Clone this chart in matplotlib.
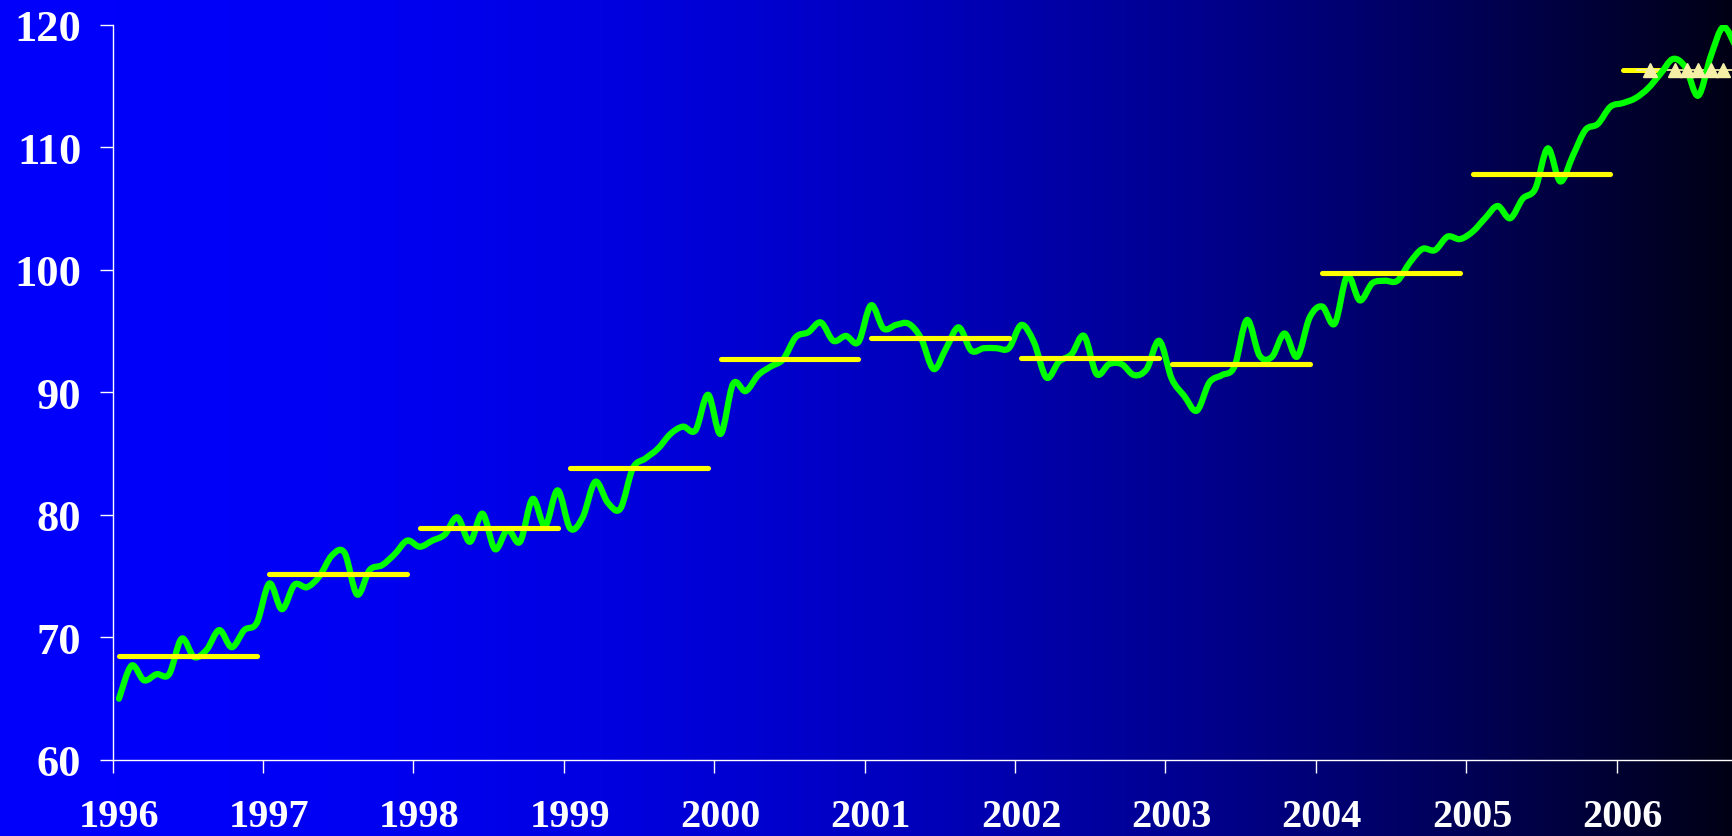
import numpy as np
import matplotlib
matplotlib.use("Agg")
import matplotlib.pyplot as plt
from matplotlib.path import Path
from matplotlib.patches import PathPatch
from matplotlib.transforms import ScaledTranslation

# ---------------- data ----------------
years = list(range(1996, 2007))
year_labels = [str(y) for y in years]
y_ticks = [60, 70, 80, 90, 100, 110, 120]

monthly_1996 = [65.0, 67.7, 66.5, 67.0, 67.0, 69.9, 68.4, 69.0, 70.6, 69.2, 70.6, 71.2]
monthly_1997 = [74.4, 72.3, 74.3, 74.1, 75.0, 76.7, 76.9, 73.5, 75.5, 75.9, 76.8, 77.9]
monthly_1998 = [77.4, 77.9, 78.4, 79.8, 77.8, 80.1, 77.2, 78.8, 77.8, 81.3, 79.1, 82.0]
monthly_1999 = [78.9, 79.8, 82.7, 81.0, 80.5, 83.8, 84.6, 85.4, 86.6, 87.2, 86.9, 89.8]
monthly_2000 = [86.6, 90.7, 90.1, 91.4, 92.1, 92.7, 94.5, 94.9, 95.7, 94.2, 94.6, 94.1]
monthly_2001 = [97.1, 95.2, 95.5, 95.6, 94.4, 91.9, 93.6, 95.3, 93.4, 93.6, 93.6, 93.6]
monthly_2002 = [95.5, 94.1, 91.2, 92.5, 93.1, 94.6, 91.5, 92.3, 92.3, 91.4, 91.9, 94.2]
monthly_2003 = [91.1, 89.7, 88.5, 90.8, 91.4, 92.1, 95.9, 93.0, 92.9, 94.8, 92.9, 96.1]
monthly_2004 = [97.0, 95.6, 99.5, 97.5, 98.9, 99.1, 99.1, 100.6, 101.7, 101.6, 102.7, 102.5]
monthly_2005 = [103.1, 104.2, 105.2, 104.2, 105.8, 106.6, 109.9, 107.2, 109.3, 111.4, 111.9, 113.3]
monthly_2006 = [113.6, 114.0, 114.8, 116.0, 117.2, 116.5, 114.2, 117.4, 119.8, 118.2]

annual_avg = [68.5, 75.2, 78.9, 83.8, 92.7, 94.4, 92.8, 92.3, 99.7, 107.8]
avg_2006 = 116.3
forecast_2006 = 116.3
forecast_marker_dates = [2006.22, 2006.39, 2006.47, 2006.54, 2006.63, 2006.71]

# ---------------- figure ----------------
W, H, DPI = 1733, 837, 100
fig = plt.figure(figsize=(W / DPI, H / DPI), dpi=DPI)

# background gradient (blue -> black, left to right)
bg = fig.add_axes([0, 0, 1, 1], zorder=0)
gx = np.linspace(0, 1, 800)
img = np.zeros((1, gx.size, 3))
img[0, :, 2] = (252 - 232 * gx ** 2) / 255.0
bg.imshow(img, aspect="auto", extent=[0, 1, 0, 1], interpolation="bilinear")
bg.set_axis_off()

left = 112.7 / W
bottom = 1 - 761 / H
top = 1 - 25.6 / H
ax = fig.add_axes([left, bottom, 1 - left, top - bottom], zorder=1)
ax.set_facecolor("none")

x_right = 1996 + (W - 112.7) / 150.4
ax.set_xlim(1996, x_right)
ax.set_ylim(60, 120)

# monthly series
all_monthly = (monthly_1996 + monthly_1997 + monthly_1998 + monthly_1999 + monthly_2000 +
               monthly_2001 + monthly_2002 + monthly_2003 + monthly_2004 + monthly_2005 +
               monthly_2006)
n = len(all_monthly)
tx = np.array([1996 + (i + 0.5) / 12.0 for i in range(n)])
ty = np.array(all_monthly)

# smoothed line (Catmull-Rom as cubic Bezier, like Excel "smoothed line")
P = np.column_stack([tx, ty])
verts = [P[0]]
codes = [Path.MOVETO]
for i in range(n - 1):
    p0 = P[i - 1] if i > 0 else P[i]
    p1 = P[i]
    p2 = P[i + 1]
    p3 = P[i + 2] if i + 2 < n else P[i + 1]
    c1 = p1 + (p2 - p0) / 6.0
    c2 = p2 - (p3 - p1) / 6.0
    verts += [c1, c2, p2]
    codes += [Path.CURVE4] * 3
green_path = Path(np.array(verts), codes)

# 2006 partial average (under the green line)
ax.plot([2006 + 0.5 / 12, 2006 + 3.7 / 12], [avg_2006, avg_2006], color="#FFFF00",
        lw=3.6, solid_capstyle="round", zorder=2)
# forecast thin line
ax.plot([2006 + 1.6 / 12, x_right + 0.1], [forecast_2006, forecast_2006],
        color="#F2EDA0", lw=1.3, zorder=2.5)

ax.add_patch(PathPatch(green_path, facecolor="none", edgecolor="#00FF00", lw=4.5,
                       joinstyle="round", capstyle="round", zorder=3))

# annual averages
for k, yr in enumerate(years[:-1]):
    ax.plot([yr + 0.5 / 12, yr + 11.5 / 12], [annual_avg[k], annual_avg[k]],
            color="#FFFF00", lw=3.7, solid_capstyle="round", zorder=4)

# forecast triangles
ax.plot(forecast_marker_dates, [forecast_2006] * len(forecast_marker_dates),
        ls="none", marker="^", ms=10.5, color="#F5F0A5", mec="#F5F0A5", zorder=5,
        clip_on=True)

# ---------------- axes styling ----------------
for s in ["top", "right"]:
    ax.spines[s].set_visible(False)
for s in ["left", "bottom"]:
    ax.spines[s].set_color("white")
    ax.spines[s].set_linewidth(1.0)

ax.set_xticks(years)
ax.set_xticklabels(year_labels)
ax.set_yticks(y_ticks)
ax.set_yticklabels([str(v) for v in y_ticks])
ax.tick_params(axis="both", direction="out", color="white", width=1.0, length=9.5,
               labelcolor="white")
ax.tick_params(axis="x", pad=18)
ax.tick_params(axis="y", pad=13)

for lab in ax.get_yticklabels():
    lab.set_fontfamily("Liberation Serif")
    lab.set_fontweight("bold")
    lab.set_fontsize(32)
off = ScaledTranslation(6 / DPI, 0, fig.dpi_scale_trans)
for lab in ax.get_xticklabels():
    lab.set_fontfamily("Liberation Serif")
    lab.set_fontweight("bold")
    lab.set_fontsize(29)
    lab.set_transform(lab.get_transform() + off)

fig.savefig("out.png", dpi=DPI)
